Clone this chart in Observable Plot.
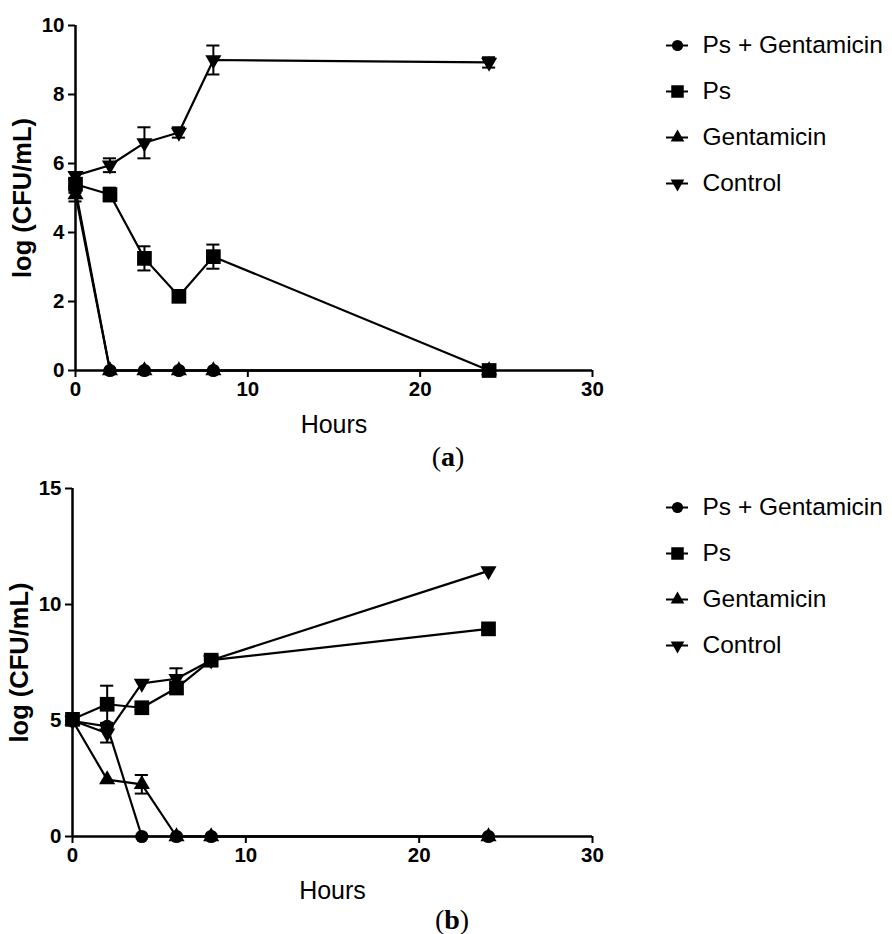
<!DOCTYPE html>
<html>
<head>
<meta charset="utf-8">
<script src="https://cdn.jsdelivr.net/npm/d3@7"></script>
<script src="https://cdn.jsdelivr.net/npm/@observablehq/plot@0.6"></script>
<style>
  html, body { margin: 0; padding: 0; background: #fff; }
  #root { position: relative; width: 892px; height: 934px; overflow: hidden; font-family: "Liberation Sans", Arial, sans-serif; }
  #root > div { position: absolute; }
  #root > div.tag { font-family: "Liberation Serif", "DejaVu Serif", serif; font-size: 28px; transform: translate(-50%, -50%); white-space: nowrap; line-height: 1; }
  svg g[aria-label="x-axis label"] { font-size: 25px; font-weight: normal; }
  svg g[aria-label="y-axis label"] { font-size: 25.5px; font-weight: bold; }
</style>
</head>
<body>
<div id="root"></div>
<script>
// ---------- data ----------
const hours = [0, 2, 4, 6, 8, 24];
const seriesNames = ["Ps + Gentamicin", "Ps", "Gentamicin", "Control"];

// Panel (a)
const aPsGentamicin    = [5.25, 0, 0, 0, 0, 0];
const aPsGentamicinErr = [0.1, 0, 0, 0, 0, 0];
const aPs              = [5.4, 5.1, 3.25, 2.15, 3.3, 0];
const aPsErr           = [0.15, 0.2, 0.35, 0.15, 0.35, 0];
const aGentamicin      = [5.1, 0, 0, 0, 0, 0];
const aGentamicinErr   = [0.2, 0, 0, 0, 0, 0];
const aControl         = [5.65, 5.95, 6.6, 6.9, 9.0, 8.93];
const aControlErr      = [0.1, 0.2, 0.45, 0.15, 0.42, 0.15];
const aYTicks = [0, 2, 4, 6, 8, 10];

// Panel (b)
const bPsGentamicin    = [4.98, 4.75, 0, 0, 0, 0];
const bPsGentamicinErr = [0, 0, 0, 0, 0, 0];
const bPs              = [5.05, 5.7, 5.55, 6.4, 7.6, 8.95];
const bPsErr           = [0.1, 0.8, 0.1, 0.2, 0.1, 0.1];
const bGentamicin      = [5.0, 2.45, 2.25, 0, 0, 0];
const bGentamicinErr   = [0, 0, 0.4, 0, 0, 0];
const bControl         = [5.0, 4.45, 6.6, 6.8, 7.6, 11.45];
const bControlErr      = [0, 0.4, 0, 0.45, 0, 0];
const bYTicks = [0, 5, 10, 15];

const xTicks = [0, 10, 20, 30];
const xLabel = "Hours";
const yLabel = "log (CFU/mL)";

// ---------- symbols ----------
const downTriangle = {
  draw(context, size) {
    const s3 = Math.sqrt(3);
    const y = -Math.sqrt(size / (s3 * 3));
    context.moveTo(0, -y * 2);
    context.lineTo(-s3 * y, y);
    context.lineTo(s3 * y, y);
    context.closePath();
  }
};
const symbols = ["circle", "square", "triangle", downTriangle];
const radii = [6.6, 8.3, 6, 6];

function buildRows(valuesList, errList) {
  const rows = [];
  valuesList.forEach((vals, si) => {
    vals.forEach((v, i) => rows.push({series: seriesNames[si], si, h: hours[i], v, e: errList[si][i]}));
  });
  return rows;
}

function panel(valuesList, errList, yMax, yTicks, marginLeft, height) {
  const rows = buildRows(valuesList, errList);
  const marks = [];
  seriesNames.forEach((name, si) => {
    const d = rows.filter(r => r.si === si);
    const de = d.filter(r => r.e > 0);
    marks.push(Plot.line(d, {x: "h", y: "v", stroke: "black", strokeWidth: 2.2}));
    marks.push(Plot.ruleX(de, {x: "h", y1: r => r.v - r.e, y2: r => r.v + r.e, stroke: "black", strokeWidth: 2}));
    marks.push(Plot.ruleY(de, {y: r => r.v + r.e, x1: r => r.h - 0.38, x2: r => r.h + 0.38, stroke: "black", strokeWidth: 2}));
    marks.push(Plot.ruleY(de, {y: r => r.v - r.e, x1: r => r.h - 0.38, x2: r => r.h + 0.38, stroke: "black", strokeWidth: 2}));
    marks.push(Plot.dot(d, {x: "h", y: "v", symbol: symbols[si], r: radii[si], fill: "black", stroke: "none"}));
  });
  return Plot.plot({
    width: 892,
    height,
    marginLeft,
    marginRight: 300,
    marginTop: 25,
    marginBottom: 70,
    style: {fontFamily: '"Liberation Sans", Arial, sans-serif', color: "black", background: "white", overflow: "visible"},
    x: {domain: [0, 30]},
    y: {domain: [0, yMax]},
    marks: [
      Plot.axisX({ticks: xTicks, tickSize: 7, tickPadding: 4, strokeWidth: 2, fontSize: 20.5, fontWeight: "bold",
                  label: xLabel, labelAnchor: "center", labelOffset: 62, labelArrow: "none"}),
      Plot.axisY({ticks: yTicks, tickSize: 7, tickPadding: 4, strokeWidth: 2, fontSize: 20.5, fontWeight: "bold",
                  label: yLabel, labelAnchor: "center", labelOffset: 63, labelArrow: "none"}),
      ...marks,
      Plot.ruleX([0], {stroke: "black", strokeWidth: 2.5}),
      Plot.ruleY([0], {stroke: "black", strokeWidth: 2.5})
    ]
  });
}

function legend() {
  const marks = [
    Plot.ruleY(seriesNames, {y: d => d, x1: 0, x2: 1, stroke: "black", strokeWidth: 2})
  ];
  seriesNames.forEach((name, si) => {
    marks.push(Plot.dot([name], {y: d => d, x: 0.5, symbol: symbols[si], r: radii[si] * 0.85, fill: "black", stroke: "none"}));
  });
  marks.push(Plot.text(seriesNames, {y: d => d, x: 1, dx: 14, text: d => d, textAnchor: "start", fontSize: 24.5, fill: "black"}));
  return Plot.plot({
    width: 232, height: 190, margin: 0,
    style: {fontFamily: '"Liberation Sans", Arial, sans-serif', background: "transparent", overflow: "visible"},
    x: {domain: [0, 1], range: [6, 28], axis: null},
    y: {type: "point", domain: seriesNames, range: [23, 161], padding: 0, axis: null},
    marks
  });
}

const root = document.getElementById("root");
function place(node, left, top) {
  const wrap = document.createElement("div");
  wrap.style.left = left + "px";
  wrap.style.top = top + "px";
  wrap.appendChild(node);
  root.appendChild(wrap);
  return wrap;
}

place(panel([aPsGentamicin, aPs, aGentamicin, aControl], [aPsGentamicinErr, aPsErr, aGentamicinErr, aControlErr], 10, aYTicks, 75, 440), 0, 0);
place(panel([bPsGentamicin, bPs, bGentamicin, bControl], [bPsGentamicinErr, bPsErr, bGentamicinErr, bControlErr], 15, bYTicks, 72, 443), 0, 463);
place(legend(), 660, 22);
place(legend(), 660, 484);

function tag(letter, x, y) {
  const d = document.createElement("div");
  d.className = "tag";
  d.innerHTML = "(<b>" + letter + "</b>)";
  d.style.left = x + "px";
  d.style.top = y + "px";
  root.appendChild(d);
}
tag("a", 448, 457);
tag("b", 452, 920);
</script>
</body>
</html>
